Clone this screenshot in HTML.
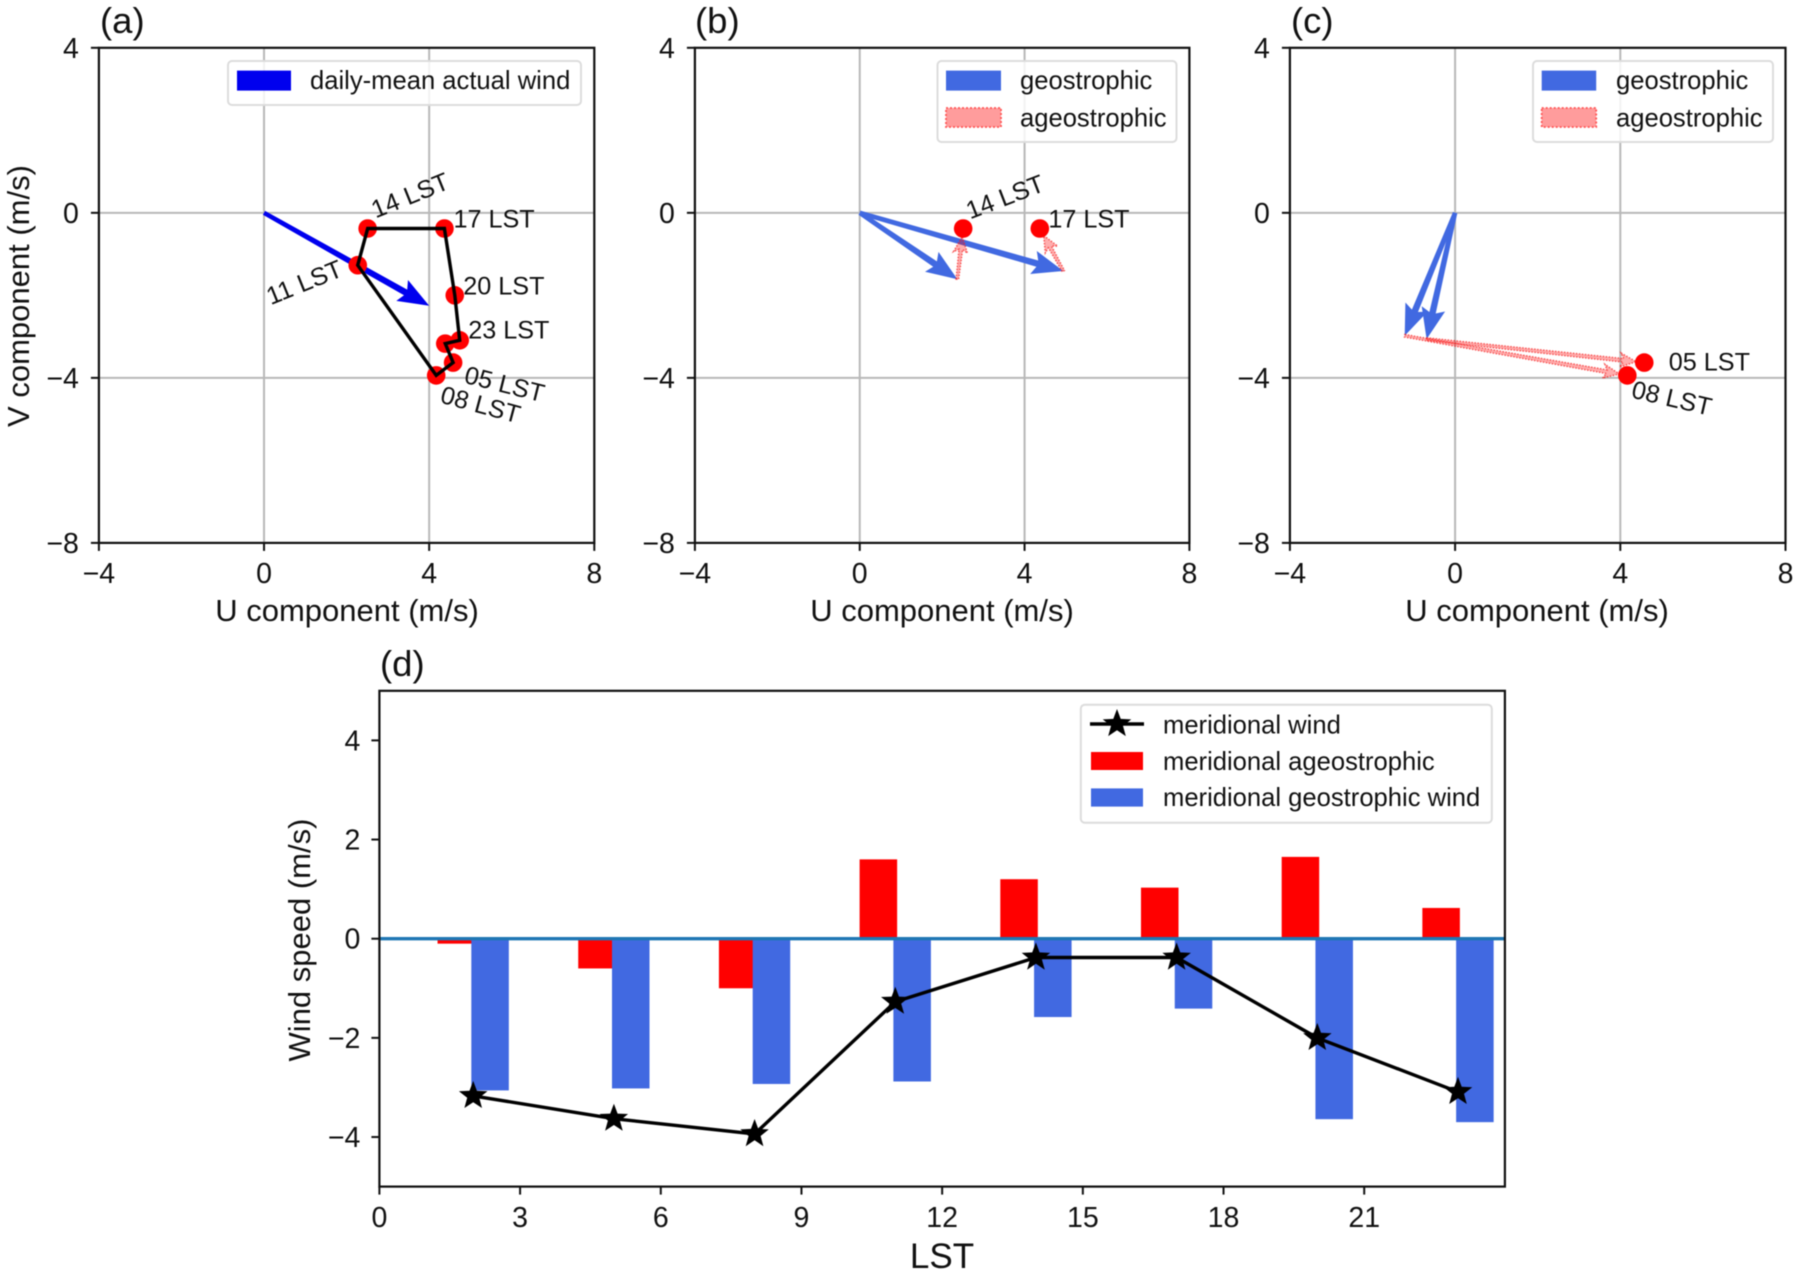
<!DOCTYPE html>
<html lang="en">
<head>
<meta charset="utf-8">
<title>Wind hodographs and meridional wind</title>
<style>
html,body{margin:0;padding:0;background:#fff;}
svg{display:block;filter:blur(0.6px);font-family:"Liberation Sans",Arial,sans-serif;fill:#111;}
.tick{font-size:28.5px;}
.ax{font-size:31px;}
.ttl{font-size:36.5px;}
.leg{font-size:25.6px;}
.ann{font-size:25.2px;}
.legbox{fill:rgba(255,255,255,.82);stroke:#dcdcdc;stroke-width:2;}
.frame{fill:none;stroke:#111;stroke-width:2.2;}
.dotpatch{fill:#ff9c9c;stroke:#f55;stroke-width:1.8;stroke-dasharray:2 2;}
</style>
</head>
<body>
<svg id="figure" width="1800" height="1274" viewBox="0 0 1800 1274" xmlns="http://www.w3.org/2000/svg">
  <rect width="1800" height="1274" fill="#fff"/>

  <g>
    <g id="a-marks"></g>
    <text class="ttl" x="100" y="33">(a)</text>
    <text class="ax" x="347" y="621" text-anchor="middle">U component (m/s)</text>
    <text class="ax" transform="translate(29 296) rotate(-90)" text-anchor="middle">V component (m/s)</text>
    <g>
      <rect class="legbox" x="228" y="61" width="353" height="44" rx="4"/>
      <rect x="237" y="70.6" width="54" height="20" fill="#0000ee"/>
      <text class="leg" x="310" y="89">daily-mean actual wind</text>
    </g>
  </g>

  <g>
    <g id="b-marks"></g>
    <text class="ttl" x="695" y="33">(b)</text>
    <text class="ax" x="942" y="621" text-anchor="middle">U component (m/s)</text>
    <g>
      <rect class="legbox" x="937.5" y="61" width="239" height="81" rx="4"/>
      <rect x="946" y="70.6" width="55" height="20" fill="#4169e1"/>
      <text class="leg" x="1020" y="89">geostrophic</text>
      <rect class="dotpatch" x="946" y="108" width="55" height="19"/>
      <text class="leg" x="1020" y="126.5">ageostrophic</text>
    </g>
  </g>

  <g>
    <g id="c-marks"></g>
    <text class="ttl" x="1291" y="33">(c)</text>
    <text class="ax" x="1537" y="621" text-anchor="middle">U component (m/s)</text>
    <g>
      <rect class="legbox" x="1533" y="61" width="240" height="81" rx="4"/>
      <rect x="1541.7" y="70.6" width="54.5" height="20" fill="#4169e1"/>
      <text class="leg" x="1616" y="89">geostrophic</text>
      <rect class="dotpatch" x="1541.7" y="108" width="54.5" height="19"/>
      <text class="leg" x="1616" y="126.5">ageostrophic</text>
    </g>
  </g>

  <g>
    <g id="d-marks"></g>
    <text class="ttl" x="380" y="676">(d)</text>
    <text x="942" y="1268" text-anchor="middle" font-size="35">LST</text>
    <text class="ax" transform="translate(310 940) rotate(-90)" text-anchor="middle">Wind speed (m/s)</text>
    <g>
      <rect class="legbox" x="1080.8" y="704.7" width="411" height="118" rx="4"/>
      <line x1="1090" y1="724" x2="1144" y2="724" stroke="#000" stroke-width="3.4"/>
      <polygon id="legend-star" fill="#000"/>
      <text class="leg" x="1163" y="733.4">meridional wind</text>
      <rect x="1091" y="752" width="52" height="18" fill="#ff0000"/>
      <text class="leg" x="1163" y="770">meridional ageostrophic</text>
      <rect x="1091" y="788.4" width="52" height="18.2" fill="#4169e1"/>
      <text class="leg" x="1163" y="806">meridional geostrophic wind</text>
    </g>
  </g>
</svg>

<script>
// ---- data ----
const hours = [2, 5, 8, 11, 14, 17, 20, 23];
const hodoU = [4.39, 4.58, 4.17, 2.27, 2.51, 4.37, 4.62, 4.74];
const meridionalWind = [-3.17, -3.63, -3.94, -1.27, -0.38, -0.38, -2.0, -3.09];
const meridionalAgeo = [-0.1, -0.6, -1.0, 1.6, 1.2, 1.03, 1.65, 0.62];
const meridionalGeo = [-3.06, -3.02, -2.93, -2.88, -1.58, -1.41, -3.64, -3.70];
const meanWindU = 4.0;
const meanWindV = -2.25;
const hoursB = [14, 17];
const geoUB = [2.37, 4.94];
const geoVB = [-1.61, -1.41];
const hoursC = [5, 8];
const geoUC = [-0.69, -1.22];
const geoVC = [-3.06, -2.98];
const hodoXTicks = [-4, 0, 4, 8];
const hodoYTicks = [4, 0, -4, -8];
const gridU = [0, 4];
const gridV = [0, -4];
const barXTicks = [0, 3, 6, 9, 12, 15, 18, 21];
const barYTicks = [4, 2, 0, -2, -4];

const NS = 'http://www.w3.org/2000/svg';
function mk(parent, tag, attrs, text) {
  const el = document.createElementNS(NS, tag);
  for (const k in attrs) el.setAttribute(k, attrs[k]);
  if (text !== undefined) el.textContent = text;
  parent.appendChild(el);
  return el;
}
function fmt(v) { return String(v).replace('-', '\u2212'); }
function hh(h) { return (h < 10 ? '0' : '') + h + ' LST'; }

function panel(id, left, right, top, bottom) {
  return {
    g: document.getElementById(id), left, right, top, bottom,
    x: u => left + (u + 4) / 12 * (right - left),
    y: v => top + (4 - v) / 12 * (bottom - top)
  };
}
const pA = panel('a-marks', 98.9, 594.3, 47.8, 542.9);
const pB = panel('b-marks', 694.9, 1189.4, 47.8, 542.9);
const pC = panel('c-marks', 1289.9, 1785.5, 47.8, 542.9);

function arrowPoints(x1, y1, x2, y2, w, hw, hl, al) {
  const L = Math.hypot(x2 - x1, y2 - y1);
  const ux = (x2 - x1) / L, uy = (y2 - y1) / L, nx = -uy, ny = ux;
  const pt = (a, b) => (x1 + ux * a + nx * b).toFixed(1) + ',' + (y1 + uy * a + ny * b).toFixed(1);
  return [pt(0, -w * 0.35), pt(L - al, -w / 2), pt(L - hl, -hw / 2), pt(L, 0),
          pt(L - hl, hw / 2), pt(L - al, w / 2), pt(0, w * 0.35)].join(' ');
}
function solidArrow(p, u1, v1, u2, v2, color) {
  const el = mk(p.g, 'polygon', {
    points: arrowPoints(p.x(u1), p.y(v1), p.x(u2), p.y(v2), 6.5, 24, 31, 27),
    fill: color
  });
  
  
}
function ageoArrow(p, u1, v1, u2, v2) {
  const x1 = p.x(u1), y1 = p.y(v1), x2 = p.x(u2), y2 = p.y(v2);
  const L = Math.hypot(x2 - x1, y2 - y1), t = (L - 8) / L;
  const el = mk(p.g, 'polygon', {
    points: arrowPoints(x1, y1, x1 + (x2 - x1) * t, y1 + (y2 - y1) * t, 3.6, 14, 16, 13),
    fill: 'rgba(255,0,0,0.32)', stroke: 'rgba(245,30,30,0.7)',
    'stroke-width': 1.5, 'stroke-dasharray': '1.5 1.5'
  });
  
  
}
function dot(p, u, v) {
  const el = mk(p.g, 'circle', { cx: p.x(u), cy: p.y(v), r: 9.3, fill: '#ff0000' });
  
  
}
function annotate(p, h, dx, dy, rot) {
  const i = hours.indexOf(h);
  const x = p.x(hodoU[i]) + dx, y = p.y(meridionalWind[i]) + dy;
  const el = mk(p.g, 'text', { class: 'ann', x: x, y: y, transform: 'rotate(' + rot + ' ' + x + ' ' + y + ')' }, hh(h));
  
  
}
function hodoAxes(p) {
  gridU.forEach(u => {
    const el = mk(p.g, 'line', { x1: p.x(u), x2: p.x(u), y1: p.top, y2: p.bottom, stroke: '#b8b8b8', 'stroke-width': 2 });
    
    
  });
  gridV.forEach(v => {
    const el = mk(p.g, 'line', { x1: p.left, x2: p.right, y1: p.y(v), y2: p.y(v), stroke: '#b8b8b8', 'stroke-width': 2 });
    
    
  });
}
function hodoFrame(p) {
  hodoXTicks.forEach(u => {
    const t = mk(p.g, 'line', { x1: p.x(u), x2: p.x(u), y1: p.bottom, y2: p.bottom + 8, stroke: '#111', 'stroke-width': 2 });
    
    
    const l = mk(p.g, 'text', { class: 'tick', x: p.x(u), y: 583, 'text-anchor': 'middle' }, fmt(u));
    
    
  });
  hodoYTicks.forEach(v => {
    const t = mk(p.g, 'line', { x1: p.left - 8, x2: p.left, y1: p.y(v), y2: p.y(v), stroke: '#111', 'stroke-width': 2 });
    
    
    const l = mk(p.g, 'text', { class: 'tick', x: p.left - 20, y: p.y(v) + 10, 'text-anchor': 'end' }, fmt(v));
    
    
  });
  const f = mk(p.g, 'rect', { class: 'frame', x: p.left, y: p.top, width: p.right - p.left, height: p.bottom - p.top });
  
  
}

// panel a
hodoAxes(pA);
solidArrow(pA, 0, 0, meanWindU, meanWindV, '#0000ee');
hours.forEach((h, i) => dot(pA, hodoU[i], meridionalWind[i]));
const order = [3, 4, 5, 6, 7, 0, 1, 2];
const hodoPts = order.map(i => pA.x(hodoU[i]).toFixed(1) + ',' + pA.y(meridionalWind[i]).toFixed(1)).join(' ');
const hodoLine = mk(pA.g, 'polygon', { points: hodoPts, fill: 'none', stroke: '#000', 'stroke-width': 3.4, 'stroke-linejoin': 'miter' });


annotate(pA, 14, 8, -10, -22);
annotate(pA, 17, 9, -1, 0);
annotate(pA, 20, 8.5, -1, 0);
annotate(pA, 23, 8.5, -2, 0);
annotate(pA, 11, -87, 40, -22);
annotate(pA, 5, 10, 20, 14);
annotate(pA, 8, 3, 27, 15);
hodoFrame(pA);

// panel b
hodoAxes(pB);
hoursB.forEach((h, k) => solidArrow(pB, 0, 0, geoUB[k], geoVB[k], '#4169e1'));
hoursB.forEach((h, k) => {
  const i = hours.indexOf(h);
  ageoArrow(pB, geoUB[k], geoVB[k], hodoU[i], meridionalWind[i]);
});
hoursB.forEach(h => { const i = hours.indexOf(h); dot(pB, hodoU[i], meridionalWind[i]); });
annotate(pB, 14, 7, -9, -21);
annotate(pB, 17, 8.5, -1, 0);
hodoFrame(pB);

// panel c
hodoAxes(pC);
hoursC.forEach((h, k) => solidArrow(pC, 0, 0, geoUC[k], geoVC[k], '#4169e1'));
hoursC.forEach((h, k) => {
  const i = hours.indexOf(h);
  ageoArrow(pC, geoUC[k], geoVC[k], hodoU[i], meridionalWind[i]);
});
hoursC.forEach(h => { const i = hours.indexOf(h); dot(pC, hodoU[i], meridionalWind[i]); });
annotate(pC, 5, 24.5, 8, 0);
annotate(pC, 8, 3, 22, 13);
hodoFrame(pC);

// panel d
const dG = document.getElementById('d-marks');
const dL = 379.4, dR = 1504.9, dT = 690.8, dB = 1186.6;
const dx = h => dL + h / 24 * (dR - dL);
const dy = v => dT + (5 - v) / 10 * (dB - dT);
const BAR_W = 0.8, BAR_OFF = 0.36;
function starPts(cx, cy, R) {
  const pts = [];
  for (let i = 0; i < 10; i++) {
    const r = i % 2 ? R * 0.42 : R;
    const a = -Math.PI / 2 + i * Math.PI / 5;
    pts.push((cx + r * Math.cos(a)).toFixed(1) + ',' + (cy + r * Math.sin(a)).toFixed(1));
  }
  return pts.join(' ');
}
function bar(h, v, off, color, name) {
  const x = dx(h + off - BAR_W / 2), w = dx(h + off + BAR_W / 2) - x;
  const el = mk(dG, 'rect', { x: x, y: Math.min(dy(0), dy(v)), width: w, height: Math.abs(dy(v) - dy(0)), fill: color });
  
  
}
hours.forEach((h, i) => bar(h, meridionalAgeo[i], -BAR_OFF, '#ff0000', 'bar-ageostrophic'));
hours.forEach((h, i) => bar(h, meridionalGeo[i], BAR_OFF, '#4169e1', 'bar-geostrophic'));
const zero = mk(dG, 'line', { x1: dL, x2: dR, y1: dy(0), y2: dy(0), stroke: '#1f77b4', 'stroke-width': 3.4 });


const windLine = mk(dG, 'polyline', {
  points: hours.map((h, i) => dx(h).toFixed(1) + ',' + dy(meridionalWind[i]).toFixed(1)).join(' '),
  fill: 'none', stroke: '#000', 'stroke-width': 3.4
});


hours.forEach((h, i) => {
  const s = mk(dG, 'polygon', { points: starPts(dx(h), dy(meridionalWind[i]), 15), fill: '#000' });
  
  
});
barXTicks.forEach(h => {
  const t = mk(dG, 'line', { x1: dx(h), x2: dx(h), y1: dB, y2: dB + 8, stroke: '#111', 'stroke-width': 2 });
  
  
  const l = mk(dG, 'text', { class: 'tick', x: dx(h), y: 1227, 'text-anchor': 'middle' }, fmt(h));
  
  
});
barYTicks.forEach(v => {
  const t = mk(dG, 'line', { x1: dL - 8, x2: dL, y1: dy(v), y2: dy(v), stroke: '#111', 'stroke-width': 2 });
  
  
  const l = mk(dG, 'text', { class: 'tick', x: dL - 19, y: dy(v) + 10, 'text-anchor': 'end' }, fmt(v));
  
  
});
const dFrame = mk(dG, 'rect', { class: 'frame', x: dL, y: dT, width: dR - dL, height: dB - dT });


document.getElementById('legend-star').setAttribute('points', starPts(1117, 724, 15));
</script>
</body>
</html>
